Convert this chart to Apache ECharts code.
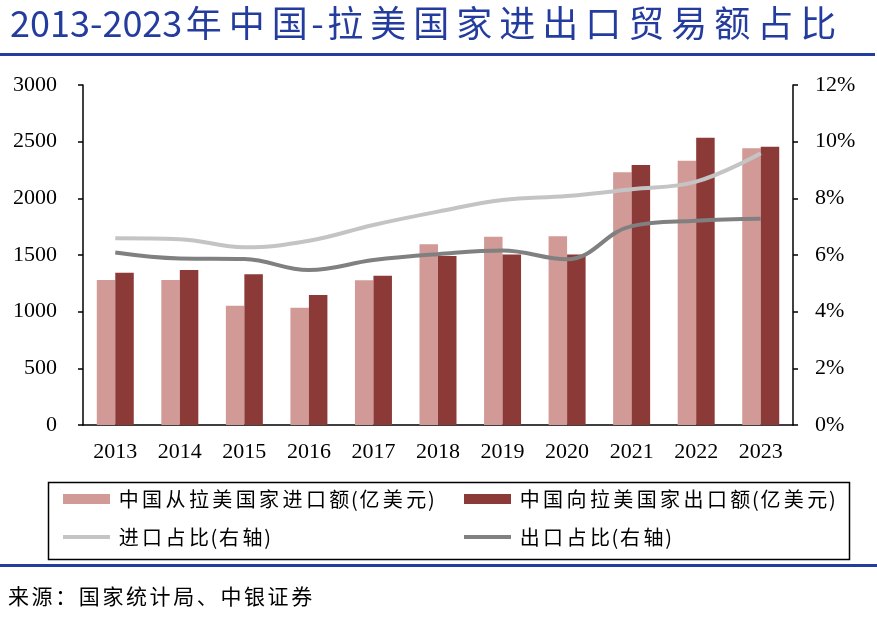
<!DOCTYPE html>
<html>
<head>
<meta charset="utf-8">
<script src="https://cdn.jsdelivr.net/npm/echarts@6/dist/echarts.min.js"></script>
<style>
  html, body { margin: 0; padding: 0; background: #fff; }
  #main { width: 877px; height: 617px; }
</style>
</head>
<body>
<div id="main"></div>
<script>
// 年份
var years = ['2013', '2014', '2015', '2016', '2017', '2018', '2019', '2020', '2021', '2022', '2023'];
// 中国从拉美国家进口额(亿美元)
var importValue = [1279, 1279, 1053, 1035, 1277, 1595, 1660, 1665, 2230, 2332, 2441];
// 中国向拉美国家出口额(亿美元)
var exportValue = [1344, 1368, 1330, 1147, 1317, 1491, 1505, 1505, 2294, 2535, 2456];
// 进口占比(%)
var importShare = [6.59, 6.56, 6.27, 6.5, 7.06, 7.53, 7.94, 8.08, 8.32, 8.59, 9.59];
// 出口占比(%)
var exportShare = [6.09, 5.88, 5.86, 5.47, 5.82, 6.03, 6.16, 5.85, 7.02, 7.21, 7.28];

var titleText = '2013-2023年中国-拉美国家进出口贸易额占比';
var sourceText = '来源：国家统计局、中银证券';
var blue = '#233c9e';
var serif = 'Liberation Serif';
var cjk = 'Noto Sans CJK SC';

/** 汉字单独包成 {c|} 以便加字距，其它字符包成 {d|} */
function spaced(s) {
    var out = '', buf = '';
    for (var i = 0; i < s.length; i++) {
        var ch = s.charAt(i);
        if (/[\u4e00-\u9fff\uff1a\u3001]/.test(ch)) {
            if (buf) { out += '{d|' + buf + '}'; buf = ''; }
            out += '{c|' + ch + '}';
        } else {
            buf += ch;
        }
    }
    if (buf) out += '{d|' + buf + '}';
    return out;
}

function legendItem(name, left, top, h) {
    return {
        data: [{name: name, icon: 'rect'}],
        left: left,
        top: top,
        itemWidth: 47,
        itemHeight: h,
        padding: 0,
        selectedMode: false,
        formatter: function (n) { return spaced(n); },
        textStyle: {
            padding: [0, 0, 0, 2],
            rich: {
                d: {fontFamily: cjk, fontSize: 20, color: '#000'},
                c: {fontFamily: cjk, fontSize: 20, color: '#000', padding: [0, 1.7]}
            }
        }
    };
}

var myChart = echarts.init(document.getElementById('main'));
var option = {
    animation: false,
    backgroundColor: '#fff',
    title: {
        text: spaced(titleText),
        left: 10,
        top: 5,
        padding: 0,
        textStyle: {
            rich: {
                d: {fontFamily: cjk, fontSize: 36, fontWeight: 'normal', color: blue},
                c: {fontFamily: cjk, fontSize: 36, fontWeight: 'normal', color: blue, padding: [0, 3.5]}
            }
        }
    },
    legend: [
        legendItem('中国从拉美国家进口额(亿美元)', 63, 489, 10),
        legendItem('中国向拉美国家出口额(亿美元)', 464, 489, 10),
        legendItem('进口占比(右轴)', 63, 527, 4),
        legendItem('出口占比(右轴)', 464, 527, 4)
    ],
    grid: {
        left: 83,
        right: 84,
        top: 85,
        bottom: 192
    },
    xAxis: {
        type: 'category',
        data: years,
        axisLine: {lineStyle: {color: '#000', width: 1.5}},
        axisTick: {length: 7, lineStyle: {color: '#000', width: 1.5}},
        axisLabel: {fontFamily: serif, fontSize: 22, color: '#000', margin: 16}
    },
    yAxis: [
        {
            type: 'value',
            min: 0,
            max: 3000,
            interval: 500,
            splitLine: {show: false},
            axisLine: {show: true, lineStyle: {color: '#000', width: 1.5}},
            axisTick: {show: true, length: 5, lineStyle: {color: '#000', width: 1.5}},
            axisLabel: {
                fontFamily: serif, fontSize: 22, color: '#000', margin: 26,
                formatter: function (v) { return String(v); }
            }
        },
        {
            type: 'value',
            min: 0,
            max: 12,
            interval: 2,
            position: 'right',
            splitLine: {show: false},
            axisLine: {show: true, lineStyle: {color: '#000', width: 1.5}},
            axisTick: {show: true, length: 5, lineStyle: {color: '#000', width: 1.5}},
            axisLabel: {fontFamily: serif, fontSize: 22, color: '#000', margin: 22, formatter: '{value}%'}
        }
    ],
    series: [
        {
            name: '中国从拉美国家进口额(亿美元)',
            type: 'bar',
            barWidth: 18.5,
            barGap: '0%',
            itemStyle: {color: '#d29a97'},
            data: importValue
        },
        {
            name: '中国向拉美国家出口额(亿美元)',
            type: 'bar',
            barWidth: 18.5,
            barGap: '0%',
            itemStyle: {color: '#8c3a37'},
            data: exportValue
        },
        {
            name: '进口占比(右轴)',
            type: 'line',
            yAxisIndex: 1,
            smooth: 0.4,
            showSymbol: false,
            itemStyle: {color: '#c4c4c4'},
            lineStyle: {color: '#c4c4c4', width: 4},
            data: importShare
        },
        {
            name: '出口占比(右轴)',
            type: 'line',
            yAxisIndex: 1,
            smooth: 0.4,
            showSymbol: false,
            itemStyle: {color: '#808080'},
            lineStyle: {color: '#808080', width: 4},
            data: exportShare
        }
    ],
    graphic: [
        // 标题下的蓝线
        {type: 'rect', left: 0, top: 53, shape: {width: 875, height: 3}, style: {fill: blue}},
        // 图例外框
        {type: 'rect', left: 46, top: 480, shape: {width: 801, height: 77}, style: {fill: 'none', stroke: '#000', lineWidth: 1.5}},
        // 底部蓝线
        {type: 'rect', left: 0, top: 564, shape: {width: 877, height: 3}, style: {fill: blue}},
        {
            type: 'text',
            left: 8,
            top: 586,
            style: {
                text: spaced(sourceText),
                rich: {
                    d: {fontFamily: cjk, fontSize: 21, fill: '#000'},
                    c: {fontFamily: cjk, fontSize: 21, fill: '#000', padding: [0, 1.3]}
                }
            }
        }
    ]
};
myChart.setOption(option);
</script>
</body>
</html>
